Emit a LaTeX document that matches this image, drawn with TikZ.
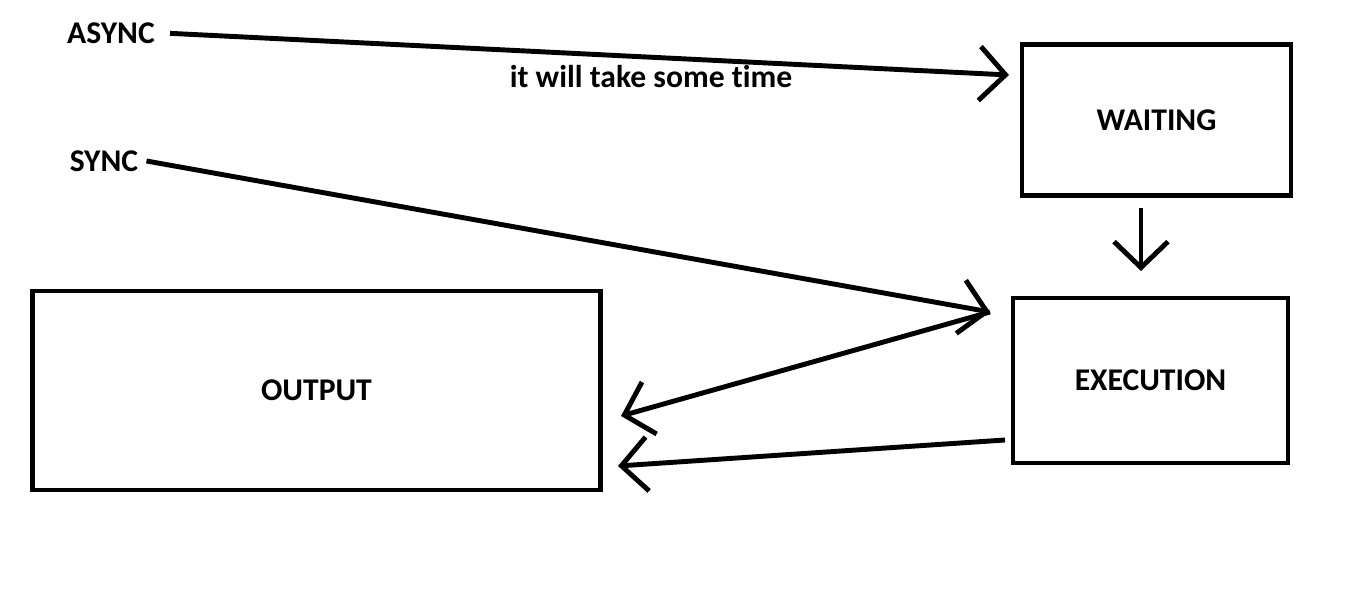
\documentclass[tikz,border=0pt]{standalone}
\usepackage{fontspec}
\setmainfont{Carlito}[Ligatures=NoCommon]
\usetikzlibrary{arrows.meta,positioning}

\begin{document}
\begin{tikzpicture}[x=0.02cm,y=-0.02cm,line width=2.8pt,
  every node/.style={font=\bfseries\fontsize{18}{20}\selectfont},
  box/.style={draw,line width=2.8pt,inner sep=0pt},
  link/.style={-{Straight Barb[length=0.52cm,width=1.08cm]}}]
\useasboundingbox (0,0) rectangle (1360,614);
\node[box,minimum width=5.38cm,minimum height=3.02cm] (waiting) at (1156.5,120) {WAITING};
\node[box,minimum width=5.5cm,minimum height=3.3cm] (execution) at (1150.5,380.5) {EXECUTION};
\node[box,minimum width=11.38cm,minimum height=3.98cm] (output) at (316.5,390.5) {OUTPUT};
\node (async) at (111,33) {ASYNC};
\node (sync) at (104,161) {SYNC};
\node (delay) at (651,77) {it will take some time};
\coordinate (waitin) at (1009,75);
\coordinate (waitout) at (1141,208);
\coordinate (execin) at (1141,271);
\coordinate (meet) at (990,312);
\coordinate (execout) at (1005,440);
\coordinate (outin) at (621,416);
\coordinate (outback) at (618,466);
\draw[link,shorten <=0.14cm] (async.east) -- (waitin);
\draw[link] (waitout) -- (execin);
\draw[link] (sync.east) -- (meet);
\draw[link] (meet) -- (outin);
\draw[link] (execout) -- (outback);
\end{tikzpicture}
\end{document}
